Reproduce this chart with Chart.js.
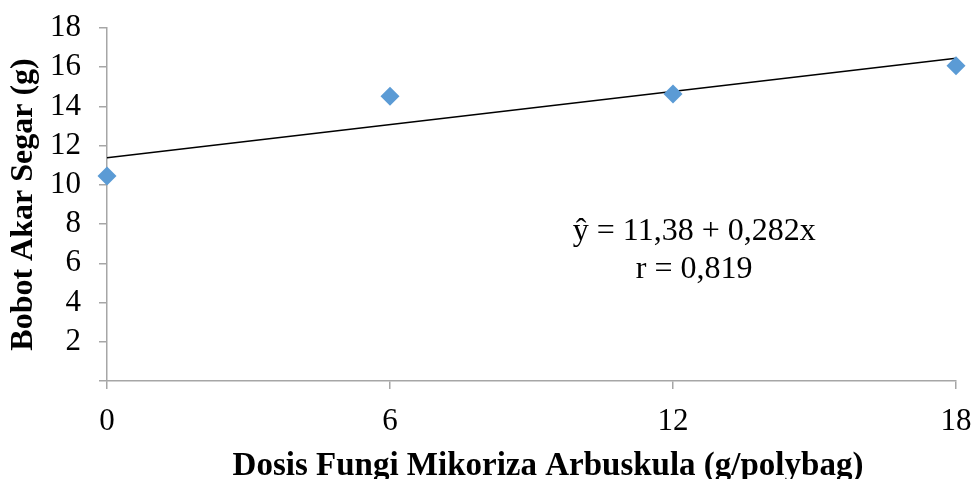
<!DOCTYPE html>
<html>
<head>
<meta charset="utf-8">
<script src="https://cdn.jsdelivr.net/npm/chart.js@4"></script>
<style>
  html, body { margin: 0; padding: 0; background: #fff; }
  #wrap { width: 976px; height: 479px; }
</style>
</head>
<body>
<div id="wrap"><canvas id="bobotChart" width="976" height="479"></canvas></div>
<script>
// dosis FMA (g/polybag) and bobot akar segar (g)
const dosis = [0, 6, 12, 18];
const bobot = [10.45, 14.52, 14.63, 16.07];
// regression line y = 11.38 + 0.282x, endpoints
const trendX = [0, 18];
const trendY = [11.38, 16.46];
const equationText = ['ŷ = 11,38 + 0,282x', 'r = 0,819'];

const serif = "'Liberation Serif', 'Times New Roman', serif";

const equationPlugin = {
    id: 'equation',
    afterDatasetsDraw(chart) {
        const c = chart.ctx;
        const x = chart.scales.x, y = chart.scales.y;
        c.save();
        c.fillStyle = '#000';
        c.font = '32px ' + serif;
        c.textAlign = 'center';
        c.textBaseline = 'middle';
        c.fillText(equationText[0], x.getPixelForValue(12.45), y.getPixelForValue(7.6));
        c.fillText(equationText[1], x.getPixelForValue(12.45), y.getPixelForValue(5.7));
        c.restore();
    }
};

document.addEventListener("DOMContentLoaded", function () {
    const ctx = document.getElementById('bobotChart');

    new Chart(ctx, {
        type: 'scatter',
        data: {
            datasets: [{
                label: 'Bobot Akar Segar',
                data: dosis.map((d, i) => ({ x: d, y: bobot[i] })),
                pointStyle: 'rectRot',
                pointRadius: 9.5,
                pointHoverRadius: 9.5,
                backgroundColor: '#5b9bd5',
                borderColor: '#5b9bd5',
                borderWidth: 0,
                clip: false,
                order: 1
            }, {
                label: 'Linear',
                type: 'line',
                data: trendX.map((d, i) => ({ x: d, y: trendY[i] })),
                borderColor: '#000',
                borderWidth: 1.5,
                pointRadius: 0,
                fill: false,
                clip: false,
                order: 2
            }]
        },
        options: {
            responsive: false,
            animation: false,
            layout: { padding: { top: 28, right: 20, left: 0, bottom: 0 } },
            plugins: {
                legend: { display: false },
                tooltip: { enabled: false }
            },
            scales: {
                x: {
                    type: 'linear',
                    min: 0,
                    max: 18,
                    afterFit: s => { s.height = 98; s.paddingLeft = 0; s.paddingRight = 0; },
                    ticks: {
                        stepSize: 6,
                        color: '#000',
                        font: { family: serif, size: 31 },
                        padding: 14
                    },
                    grid: { drawOnChartArea: false, drawTicks: true, tickLength: 8, color: '#a6a6a6', lineWidth: 1.5 },
                    border: { color: '#a6a6a6', width: 1.5 },
                    title: {
                        display: true,
                        text: '    Dosis Fungi Mikoriza Arbuskula (g/polybag)',
                        color: '#000',
                        font: { family: serif, size: 33, weight: 'bold' },
                        padding: { top: 0, bottom: -7 }
                    }
                },
                y: {
                    min: 0,
                    max: 18,
                    afterFit: s => { s.width = 107; s.paddingTop = 0; s.paddingBottom = 0; },
                    ticks: {
                        stepSize: 2,
                        autoSkip: false,
                        color: '#000',
                        font: { family: serif, size: 31 },
                        padding: 18,
                        callback: v => v === 0 ? '' : v
                    },
                    grid: { drawOnChartArea: false, drawTicks: true, tickLength: 8, color: '#a6a6a6', lineWidth: 1.5 },
                    border: { color: '#a6a6a6', width: 1.5 },
                    title: {
                        display: true,
                        text: 'Bobot Akar Segar (g)',
                        color: '#000',
                        font: { family: serif, size: 32, weight: 'bold' },
                        padding: { top: 5, bottom: 0 }
                    }
                }
            }
        },
        plugins: [equationPlugin]
    });
});
</script>
</body>
</html>
